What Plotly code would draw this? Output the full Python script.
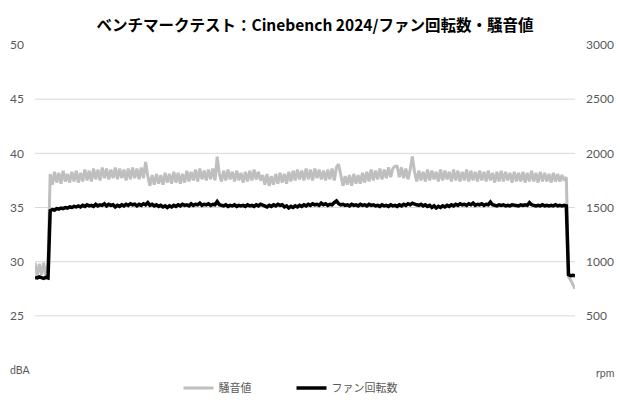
import plotly.graph_objects as go

TITLE = "ベンチマークテスト：Cinebench 2024/ファン回転数・騒音値"
NOISE_NAME = "騒音値"
FAN_NAME = "ファン回転数"

noise_dba = [
    29.9, 28.7, 29.8, 28.8, 29.9, 28.7, 29.8,
    38.1, 37.1, 38.3, 37.3, 38.2, 37.2, 38.4, 37.4, 38.1, 37.3,
    38.3, 37.4, 38.4, 37.3, 38.2, 37.4, 38.5, 37.5, 38.4, 37.4,
    38.6, 37.6, 38.5, 37.5, 38.7, 37.7, 38.6, 37.6, 38.5, 37.7,
    38.7, 37.6, 38.6, 37.7, 38.5, 37.5, 38.6, 37.6, 38.7, 37.7,
    38.6, 37.6, 38.7, 37.7,
    39.2,
    37.9, 37.0, 38.0, 37.1, 38.1, 37.2, 38.0, 37.1, 38.2, 37.3,
    38.1, 37.2, 38.3, 37.3, 38.2, 37.2, 38.1, 37.3, 38.4, 37.4,
    38.3, 37.5, 38.5, 37.4, 38.6, 37.6, 38.4, 37.5, 38.5, 37.6, 38.6, 37.5,
    39.7,
    38.1, 37.4, 38.4, 37.5, 38.5, 37.6, 38.3, 37.4, 38.4, 37.5,
    38.2, 37.3, 38.3, 37.4, 38.4, 37.5, 38.5, 37.6, 38.3, 37.5,
    38.0, 37.1, 38.1, 37.0, 37.9, 37.1, 38.1, 37.2, 38.2, 37.3,
    38.1, 37.2, 38.3, 37.4, 38.4, 37.5, 38.5, 37.6, 38.4, 37.5,
    38.6, 37.6, 38.5, 37.5, 38.6, 37.7, 38.5, 37.6, 38.4, 37.5,
    38.5, 37.6, 38.6, 37.5, 38.7,
    39.0,
    37.8, 37.0, 37.9, 37.1, 38.0, 37.0, 38.1, 37.2, 38.0, 37.2,
    38.2, 37.3, 38.3, 37.4, 38.5, 37.5, 38.4, 37.6, 38.6, 37.6,
    38.5, 37.7, 38.7, 37.8, 38.6, 38.8, 38.8, 37.8, 38.7, 37.7,
    38.6, 37.6, 38.5,
    39.7,
    38.3, 37.4, 38.4, 37.5, 38.3, 37.4, 38.5, 37.5, 38.4, 37.6,
    38.3, 37.4, 38.5, 37.5, 38.4, 37.6, 38.3, 37.4, 38.5, 37.5,
    38.4, 37.4, 38.3, 37.5, 38.5, 37.4, 38.4, 37.5, 38.3, 37.4,
    38.4, 37.5, 38.3, 37.4, 38.4, 37.5, 38.2, 37.3, 38.3, 37.4,
    38.4, 37.4, 38.3, 37.5, 38.2, 37.3, 38.3, 37.4, 38.2, 37.4,
    38.3, 37.3, 38.2, 37.4, 38.4, 37.4, 38.2, 37.3, 38.3, 37.4,
    38.2, 37.4, 38.1, 37.3, 38.2, 37.4, 38.1, 37.4, 38.0, 37.5, 37.8,
    28.6, 28.3, 27.9, 27.5,
]

fan_rpm = [
    855, 850, 860, 850, 845, 855, 850,
    1470, 1480, 1475, 1490, 1485, 1495, 1490, 1500, 1495, 1505,
    1500, 1510, 1505, 1515, 1505, 1520, 1510, 1525, 1515, 1520,
    1510, 1530, 1515, 1525, 1520, 1535, 1515, 1530, 1520, 1525,
    1505, 1520, 1510, 1525, 1515, 1530, 1520, 1535, 1525, 1530,
    1515, 1530, 1520, 1535, 1525, 1545, 1520, 1530, 1515, 1525,
    1510, 1520, 1505, 1515, 1500, 1515, 1505, 1520, 1510, 1525,
    1515, 1530, 1520, 1525, 1515, 1535, 1520, 1530, 1525, 1540,
    1520, 1530, 1525, 1535, 1520, 1530, 1525, 1555, 1525, 1520,
    1515, 1525, 1510, 1520, 1515, 1525, 1510, 1520, 1515, 1520,
    1510, 1525, 1515, 1520, 1510, 1525, 1515, 1530, 1520, 1515,
    1505, 1520, 1510, 1525, 1515, 1530, 1520, 1525, 1505, 1515,
    1495, 1510, 1500, 1515, 1505, 1520, 1510, 1525, 1515, 1530,
    1520, 1535, 1525, 1530, 1520, 1540, 1525, 1535, 1520, 1530,
    1525, 1545, 1560, 1535, 1525, 1530, 1520, 1525, 1515, 1530,
    1520, 1525, 1515, 1530, 1520, 1525, 1515, 1530, 1520, 1525,
    1515, 1520, 1510, 1525, 1515, 1520, 1510, 1525, 1515, 1520,
    1510, 1525, 1515, 1530, 1520, 1535, 1525, 1540, 1530, 1525,
    1520, 1530, 1515, 1525, 1510, 1520, 1500, 1515, 1495, 1510,
    1500, 1515, 1505, 1520, 1510, 1525, 1515, 1530, 1520, 1535,
    1525, 1530, 1520, 1535, 1525, 1540, 1520, 1530, 1525, 1535,
    1520, 1530, 1525, 1550, 1525, 1520, 1515, 1525, 1520, 1525,
    1515, 1520, 1515, 1525, 1520, 1520, 1515, 1525, 1520, 1525,
    1520, 1545, 1525, 1520, 1515, 1520, 1515, 1525, 1515, 1520,
    1515, 1520, 1515, 1525, 1515, 1520, 1515, 1520, 1515,
    880, 870, 875, 870,
]

dba_ticks = [25, 30, 35, 40, 45, 50]
rpm_ticks = [500, 1000, 1500, 2000, 2500, 3000]
grid_dba = [25, 30, 35, 40, 45]

FONT = "Noto Sans CJK JP"
TICK_FONT = "Lato"
GREY_TXT = "#595959"

fig = go.Figure()
fig.add_trace(go.Scatter(
    x=list(range(len(noise_dba))), y=noise_dba, name=NOISE_NAME, mode="lines",
    line=dict(color="#bfbfbf", width=3), yaxis="y"))
fig.add_trace(go.Scatter(
    x=list(range(len(fan_rpm))), y=fan_rpm, name=FAN_NAME, mode="lines",
    line=dict(color="#000000", width=3.5), yaxis="y2"))

n = max(len(noise_dba), len(fan_rpm))
for g in grid_dba:
    fig.add_shape(type="line", xref="paper", x0=0, x1=1, yref="y", y0=g, y1=g,
                  line=dict(color="#d9d9d9", width=1), layer="below")

fig.update_layout(
    width=620, height=400,
    margin=dict(l=35, r=45, t=45, b=30, autoexpand=False),
    paper_bgcolor="white", plot_bgcolor="white",
    font=dict(family=FONT, size=12, color=GREY_TXT),
    title=dict(text="<b>" + TITLE + "</b>", x=0.508, xanchor="center", y=0.935, yanchor="middle",
               font=dict(family=FONT, size=15.5, color="#000000")),
    xaxis=dict(range=[0, n - 1], showgrid=False, showticklabels=False, zeroline=False,
               showline=False, ticks=""),
    yaxis=dict(range=[20, 50], tickvals=dba_ticks, showgrid=False, zeroline=False,
               ticks="", ticklabelstandoff=10,
               tickfont=dict(family=TICK_FONT, size=12, color=GREY_TXT)),
    yaxis2=dict(range=[0, 3000], tickvals=rpm_ticks, overlaying="y", side="right",
                showgrid=False, zeroline=False, ticks="", ticklabelstandoff=10,
                tickfont=dict(family=TICK_FONT, size=12, color=GREY_TXT)),
    legend=dict(orientation="h", x=0.475, xanchor="center", yref="container", y=0.03,
                yanchor="middle",
                entrywidth=68, entrywidthmode="pixels", font=dict(size=11, color=GREY_TXT),
                itemwidth=30),
    showlegend=True,
)
fig.add_annotation(text="dBA", xref="paper", yref="paper", x=-0.028, y=0.0, xanchor="center",
                   yanchor="middle", showarrow=False,
                   font=dict(family=TICK_FONT, size=10.5, color=GREY_TXT))
fig.add_annotation(text="rpm", xref="paper", yref="paper", x=1.055, y=-0.01, xanchor="center",
                   yanchor="middle", showarrow=False,
                   font=dict(family=TICK_FONT, size=10.5, color=GREY_TXT))

fig.write_html("out.html", config={"displayModeBar": False},
               post_script="document.body.style.margin='0';")
